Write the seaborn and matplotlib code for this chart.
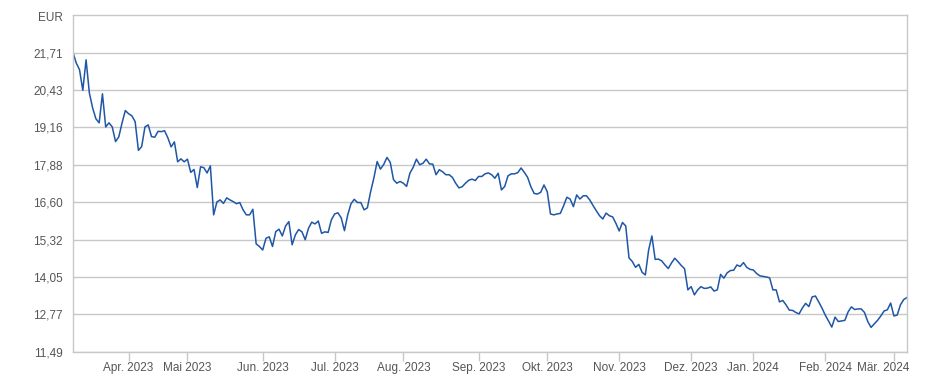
import numpy as np
import pandas as pd
import seaborn as sns
import matplotlib.pyplot as plt
import matplotlib.transforms as mtransforms

# daily closing prices (EUR), one value per trading day
prices = [
    21.71, 21.35, 21.12, 20.42, 21.46, 20.33, 19.82, 19.45, 19.31, 20.30,
    19.17, 19.31, 19.17, 18.67, 18.83, 19.31, 19.73, 19.62, 19.55, 19.35,
    18.37, 18.50, 19.17, 19.24, 18.84, 18.82, 19.02, 19.01, 19.04, 18.80,
    18.49, 18.66, 17.98, 18.08, 17.98, 18.07, 17.62, 17.72, 17.10, 17.81,
    17.78, 17.60, 17.84, 16.17, 16.61, 16.68, 16.56, 16.75, 16.68, 16.62,
    16.55, 16.59, 16.34, 16.17, 16.17, 16.36, 15.18, 15.09, 14.97, 15.37,
    15.42, 15.09, 15.60, 15.68, 15.45, 15.79, 15.94, 15.15, 15.49, 15.67,
    15.59, 15.32, 15.71, 15.92, 15.86, 15.96, 15.54, 15.59, 15.57, 16.00,
    16.20, 16.24, 16.07, 15.63, 16.17, 16.55, 16.70, 16.59, 16.59, 16.34,
    16.41, 16.96, 17.43, 17.99, 17.73, 17.89, 18.13, 17.96, 17.37, 17.25,
    17.31, 17.25, 17.14, 17.59, 17.79, 18.07, 17.88, 17.93, 18.07, 17.91,
    17.90, 17.54, 17.71, 17.64, 17.54, 17.54, 17.45, 17.25, 17.09, 17.13,
    17.25, 17.35, 17.39, 17.34, 17.48, 17.48, 17.57, 17.60, 17.54, 17.42,
    17.59, 17.02, 17.14, 17.50, 17.57, 17.57, 17.61, 17.77, 17.62, 17.45,
    17.13, 16.90, 16.88, 16.94, 17.19, 16.96, 16.20, 16.17, 16.20, 16.22,
    16.48, 16.77, 16.71, 16.45, 16.85, 16.71, 16.82, 16.82, 16.68, 16.49,
    16.31, 16.14, 16.03, 16.23, 16.14, 16.10, 15.88, 15.62, 15.91, 15.79,
    14.70, 14.58, 14.38, 14.48, 14.21, 14.12, 14.97, 15.45, 14.65, 14.66,
    14.60, 14.46, 14.34, 14.53, 14.69, 14.57, 14.44, 14.33, 13.61, 13.72,
    13.44, 13.61, 13.72, 13.66, 13.67, 13.71, 13.57, 13.61, 14.14, 14.01,
    14.19, 14.27, 14.28, 14.46, 14.41, 14.54, 14.38, 14.31, 14.29, 14.17,
    14.09, 14.07, 14.05, 14.02, 13.61, 13.61, 13.20, 13.25, 13.10, 12.92,
    12.91, 12.84, 12.79, 12.99, 13.15, 13.04, 13.37, 13.40, 13.20, 12.99,
    12.75, 12.55, 12.34, 12.68, 12.53, 12.55, 12.57, 12.86, 13.03, 12.94,
    12.96, 12.96, 12.84, 12.53, 12.33, 12.45, 12.57, 12.72, 12.89, 12.93,
    13.16, 12.72, 12.75, 13.10, 13.28, 13.35,
]

# first trading day of each month (index into prices)
month_starts = [17, 35, 58, 80, 101, 124, 145, 167, 189, 208, 230, 251]
month_labels = ['Apr. 2023', 'Mai 2023', 'Jun. 2023', 'Jul. 2023', 'Aug. 2023',
                'Sep. 2023', 'Okt. 2023', 'Nov. 2023', 'Dez. 2023', 'Jan. 2024',
                'Feb. 2024', 'Mär. 2024']

y_ticks = [11.49, 12.77, 14.05, 15.32, 16.60, 17.88, 19.16, 20.43, 21.71]
y_labels = ['11,49', '12,77', '14,05', '15,32', '16,60', '17,88', '19,16', '20,43', '21,71']

df = pd.DataFrame({'day': np.arange(len(prices)), 'price': prices})

sns.set_style('white')
plt.rcParams['font.family'] = ['Liberation Sans', 'DejaVu Sans']

fig = plt.figure(figsize=(9.28, 3.85), dpi=100)
ax = fig.add_axes([73/928, 33/385, 834/928, 337/385])

sns.lineplot(data=df, x='day', y='price', ax=ax, color='#1f56a6', linewidth=1.1)

ax.set_xlim(0, len(prices) - 1)
ax.set_ylim(11.49, 22.99)
ax.set_yticks(y_ticks, y_labels)
ax.set_xticks(month_starts, month_labels)
ax.set_xlabel('')
ax.set_ylabel('')

grey = '#c8c8c8'
ax.grid(axis='y', color=grey, linewidth=1.0)
ax.grid(axis='x', visible=False)
for s in ax.spines.values():
    s.set_color(grey)
    s.set_linewidth(1.0)

ax.tick_params(axis='y', length=0, pad=7.5, labelsize=8.5, labelcolor='#555555')
ax.tick_params(axis='x', length=6.5, width=1, color=grey, pad=1,
               labelsize=8.5, labelcolor='#555555', direction='out')
ax.xaxis.set_ticks_position('bottom')

# last month label is pushed left so it stays inside the plot width
last = ax.get_xticklabels()[-1]
last.set_transform(last.get_transform() +
                   mtransforms.ScaledTranslation(-0.11, 0, fig.dpi_scale_trans))

ax.text(-0.012, 0.991, 'EUR', transform=ax.transAxes, ha='right', va='center',
        fontsize=8.5, color='#555555')

plt.savefig('out.png', dpi=100)
